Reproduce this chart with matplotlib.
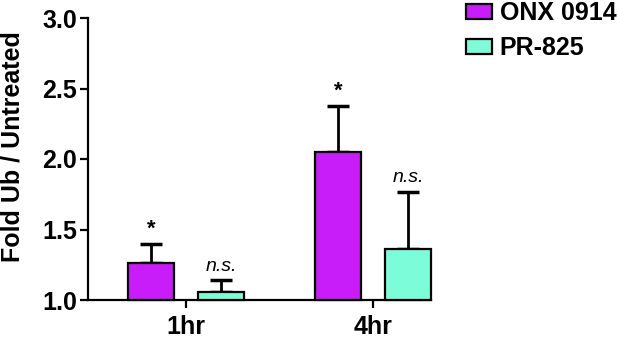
import matplotlib
matplotlib.use("Agg")
import matplotlib.pyplot as plt
from matplotlib.patches import Patch
import numpy as np

plt.rcParams['font.family'] = ['Liberation Sans', 'DejaVu Sans']

categories = ["1hr", "4hr"]
series_names = ["ONX 0914", "PR-825"]
onx_vals = [1.265, 2.05]
onx_err = [0.13, 0.325]
pr_vals = [1.055, 1.36]
pr_err = [0.085, 0.405]
onx_labels = ["*", "*"]
pr_labels = ["n.s.", "n.s."]
yticks = [1.0, 1.5, 2.0, 2.5, 3.0]

colors = ["#C81CF8", "#7DFCDA"]

fig = plt.figure(figsize=(6.17, 3.38), dpi=100)
ax = fig.add_axes([88/617, 1-300/338, (431-88)/617, (300-18)/338])

x = np.arange(len(categories))
w = 0.25
off = 0.187

b1 = ax.bar(x - off, np.array(onx_vals) - 1.0, bottom=1.0, width=w, color=colors[0],
            edgecolor="black", linewidth=1.6, zorder=3)
b2 = ax.bar(x + off, np.array(pr_vals) - 1.0, bottom=1.0, width=w, color=colors[1],
            edgecolor="black", linewidth=1.6, zorder=3)
for b in list(b1) + list(b2):
    b.set_clip_on(False)

ax.errorbar(x - off, onx_vals, yerr=[np.zeros(2), onx_err], fmt="none", ecolor="black",
            elinewidth=2, capsize=8, capthick=2.5, zorder=2)
ax.errorbar(x + off, pr_vals, yerr=[np.zeros(2), pr_err], fmt="none", ecolor="black",
            elinewidth=2, capsize=8, capthick=2.5, zorder=2)

for i in range(len(categories)):
    ax.text(x[i] - off, onx_vals[i] + onx_err[i] + 0.03, onx_labels[i], ha="center",
            va="bottom", fontsize=16, fontweight="bold")
    ax.text(x[i] + off, pr_vals[i] + pr_err[i] + 0.04, pr_labels[i], ha="center",
            va="bottom", fontsize=14, fontstyle="italic")

ax.set_xlim(-0.524, 1.31)
ax.set_ylim(1.0, 3.0)
ax.set_yticks(yticks)
ax.set_yticklabels([f"{t:.1f}" for t in yticks], fontsize=18, fontweight="bold")
ax.set_xticks(x)
ax.set_xticklabels(categories, fontsize=18, fontweight="bold")
ax.set_ylabel("Fold Ub / Untreated", fontsize=18, fontweight="bold")
ax.yaxis.set_label_coords(-0.185, 0.545)

for s in ["top", "right"]:
    ax.spines[s].set_visible(False)
for s in ["left", "bottom"]:
    ax.spines[s].set_linewidth(1.6)
ax.tick_params(axis="both", width=1.6, length=6, direction="out")
ax.tick_params(axis="y", pad=2)
ax.tick_params(axis="x", pad=5)

handles = [Patch(facecolor=colors[0], edgecolor="black", linewidth=1.6, label=series_names[0]),
           Patch(facecolor=colors[1], edgecolor="black", linewidth=1.6, label=series_names[1])]
fig.legend(handles=handles, loc="upper left", bbox_to_anchor=(466/617, 1 - 1/338),
           frameon=False, prop={"size": 18, "weight": "bold"}, handlelength=1.05,
           handleheight=0.55, handletextpad=0.3, labelspacing=0.45, borderaxespad=0,
           borderpad=0)

fig.savefig("out.png", dpi=100)
